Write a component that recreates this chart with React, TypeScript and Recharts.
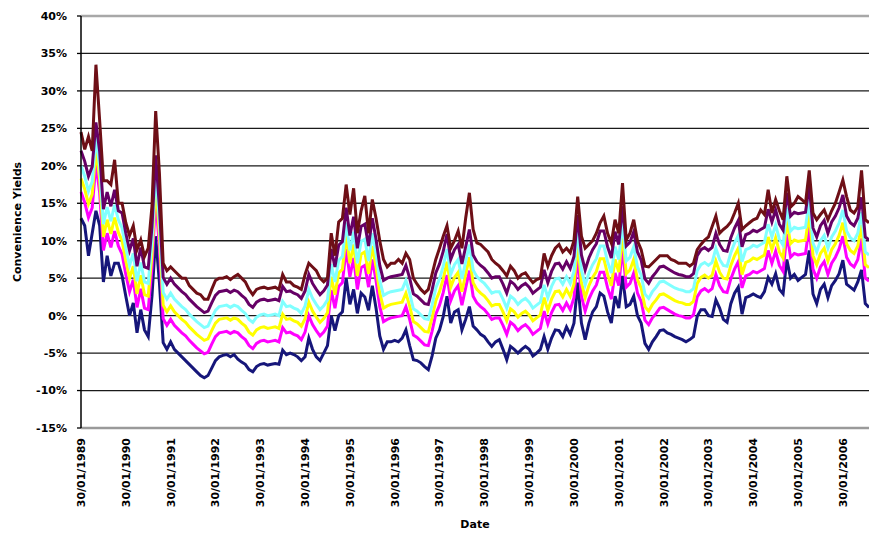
import { LineChart, Line, XAxis, YAxis, CartesianGrid, ReferenceLine, Label } from 'recharts';

// monthly observations, Jan 1989 .. Aug 2006 (values in %)
const maroonYield = [
  24.5, 22.2, 23.9, 22, 33.5, 26, 18, 18, 17.5, 20.8, 15, 15,
  12.4, 10.7, 12, 8.8, 10.1, 7.9, 9, 14.6, 27.3, 19, 7, 6,
  6.5, 6, 5.5, 5, 5, 4, 3.5, 3, 2.8, 2.2, 2.2, 3.5,
  4.7, 5, 5, 5.2, 4.8, 5.2, 5.5, 5, 4.5, 3.5, 2.8, 3.5,
  3.7, 3.8, 3.6, 3.7, 3.8, 3.5, 5.5, 4.5, 4.5, 4, 3.8, 3.5,
  5.5, 7, 6.5, 6, 5, 4.5, 5, 11, 8, 12.5, 13, 17.5,
  13.5, 17, 11, 14, 16, 11, 15.5, 13, 10, 7.5, 6.5, 7,
  7, 7.5, 7, 8.3, 7.5, 5, 4.2, 3.5, 3, 3.5, 5.5, 7.5,
  9, 10.6, 12, 9, 10, 11.3, 9, 13, 16.4, 11.5, 9.7, 9.5,
  9, 8.5, 7.5, 7, 6.6, 6, 5.3, 6.6, 6, 5, 5.5, 5.7,
  5, 4.4, 4.8, 5, 8.3, 6.6, 8, 9, 9.5, 8.5, 9, 8.4,
  10, 15.9, 10.6, 9, 9.5, 10, 11, 12.4, 13.3, 11, 9.7, 12.8,
  11, 17.7, 10.1, 11, 12.8, 10, 8.8, 6.6, 6.5, 7, 7.5, 8,
  8, 8, 7.5, 7.3, 7, 7, 7, 6.6, 7, 8.8, 9.5, 10.1,
  10.5, 11.9, 13.3, 11, 11.5, 11.9, 12.5, 13.7, 15, 11.5, 12, 12.4,
  12.8, 13, 14.1, 13.5, 16.8, 13.7, 15.5, 14, 12.8, 18.6, 14.5, 15,
  15.9, 15.5, 15, 19.4, 13.7, 12.8, 13.5, 14.1, 12.8, 14, 15, 16.5,
  18.1, 15.9, 14.1, 13.7, 14.5, 19.4, 12.8, 12.4,
];

const purpleYield = [
  22.0, 20.6, 18.6, 19.9, 25.8, 21.9, 14.2, 16.5, 14.6, 16.8, 14.0, 13.7,
  11.0, 8.7, 10.3, 6.6, 9.1, 6.5, 6.3, 11.8, 21.4, 14.5, 5.1, 4.2,
  5.0, 4.2, 3.7, 3.2, 2.8, 2.2, 1.7, 1.2, 0.8, 0.4, 0.6, 1.7,
  2.7, 3.2, 3.3, 3.4, 3.1, 3.4, 3.2, 2.7, 2.3, 1.5, 1.1, 1.8,
  2.1, 2.2, 2.0, 2.1, 2.2, 2.0, 3.9, 3.2, 3.3, 3.0, 2.8, 2.3,
  3.3, 5.5, 4.3, 3.5, 2.8, 3.3, 4.1, 8.9, 6.5, 9.4, 9.9, 14.4,
  10.7, 13.2, 9.0, 11.9, 12.2, 9.3, 13.0, 10.2, 6.7, 4.7, 5.0, 5.2,
  5.3, 5.4, 5.5, 6.7, 5.0, 2.9, 2.6, 2.1, 1.6, 1.5, 3.4, 5.7,
  6.9, 8.6, 10.9, 7.5, 8.8, 9.5, 6.9, 9.2, 11.5, 8.1, 7.2, 6.7,
  6.3, 5.7, 5.0, 5.2, 5.2, 4.2, 3.0, 4.6, 4.2, 3.5, 4.0, 4.3,
  3.8, 3.0, 3.4, 3.8, 6.1, 4.4, 5.9, 6.9, 7.0, 6.2, 7.2, 6.3,
  7.9, 13.4, 8.1, 6.1, 7.7, 8.8, 9.6, 11.3, 11.3, 9.2, 7.7, 11.2,
  9.5, 14.6, 9.3, 9.8, 11.2, 8.5, 7.4, 4.9, 4.3, 5.2, 5.8, 6.5,
  6.6, 6.3, 6.0, 5.7, 5.5, 5.4, 5.2, 5.2, 5.6, 8.0, 8.8, 9.1,
  8.7, 9.1, 11.0, 9.5, 8.7, 8.6, 10.4, 11.7, 12.7, 9.2, 10.8, 11.0,
  11.4, 11.2, 11.5, 11.8, 14.2, 12.5, 14.1, 12.2, 11.4, 16.4, 13.3, 13.8,
  13.6, 13.7, 13.8, 17.4, 11.7, 10.5, 12.0, 12.7, 11.0, 12.5, 13.3, 14.4,
  16.1, 13.3, 12.4, 12.0, 13.0, 15.8, 10.5, 10.1,
];

const cyanYield = [
  20.0, 18.6, 16.6, 17.9, 23.8, 19.9, 12.2, 14.5, 12.6, 14.8, 12.8, 11.7,
  9.0, 6.7, 8.3, 4.6, 7.1, 4.5, 4.3, 9.8, 19.4, 12.5, 3.1, 2.2,
  3.0, 2.2, 1.7, 1.2, 0.8, 0.2, -0.3, -0.8, -1.2, -1.6, -1.4, -0.3,
  0.7, 1.2, 1.3, 1.4, 1.1, 1.4, 1.2, 0.7, 0.3, -0.5, -0.9, -0.2,
  0.1, 0.2, 0.0, 0.1, 0.2, 0.0, 1.9, 1.2, 1.3, 1.0, 0.8, 0.3,
  1.3, 3.5, 2.3, 1.5, 0.8, 1.3, 2.1, 6.9, 4.5, 7.4, 7.9, 12.4,
  8.7, 11.2, 7.0, 9.9, 10.2, 7.3, 11.0, 8.2, 4.7, 2.7, 3.0, 3.2,
  3.3, 3.4, 3.5, 4.7, 3.0, 0.9, 0.6, 0.1, -0.4, -0.5, 1.4, 3.7,
  4.9, 6.6, 8.9, 5.5, 6.8, 7.5, 4.9, 7.2, 9.5, 6.1, 5.2, 4.7,
  4.3, 3.7, 3.0, 3.2, 3.2, 2.2, 1.0, 2.6, 2.2, 1.5, 2.0, 2.3,
  1.8, 1.0, 1.4, 1.8, 4.1, 2.4, 3.9, 4.9, 5.0, 4.2, 5.2, 4.3,
  5.9, 11.4, 6.1, 4.1, 5.7, 6.8, 7.6, 9.3, 9.3, 7.2, 5.7, 9.2,
  7.5, 12.6, 7.3, 7.8, 9.2, 6.5, 5.4, 2.9, 2.3, 3.2, 3.8, 4.5,
  4.6, 4.3, 4.0, 3.7, 3.5, 3.4, 3.2, 3.2, 3.6, 6.0, 6.8, 7.1,
  6.7, 7.1, 9.0, 7.5, 6.7, 6.6, 8.4, 9.7, 10.7, 7.2, 8.8, 9.0,
  9.4, 9.2, 9.5, 9.8, 12.2, 10.5, 12.1, 10.2, 9.4, 14.4, 11.3, 11.8,
  11.6, 11.7, 11.8, 15.4, 9.7, 8.5, 10.0, 10.7, 9.0, 10.5, 11.3, 12.4,
  14.1, 11.3, 10.4, 10.0, 11.0, 13.8, 8.5, 8.1,
];

const yellowYield = [
  18.3, 16.9, 14.9, 16.2, 22.1, 18.2, 10.5, 12.8, 10.9, 13.1, 11.1, 10.0,
  7.3, 5.0, 6.6, 2.9, 5.4, 2.8, 2.6, 8.1, 17.7, 10.8, 1.4, 0.5,
  1.3, 0.5, 0.0, -0.5, -0.9, -1.5, -2.0, -2.5, -2.9, -3.3, -3.1, -2.0,
  -1.0, -0.5, -0.4, -0.3, -0.6, -0.3, -0.5, -1.0, -1.4, -2.2, -2.6, -1.9,
  -1.6, -1.5, -1.7, -1.6, -1.5, -1.7, 0.2, -0.5, -0.4, -0.7, -0.9, -1.4,
  -0.4, 1.8, 0.6, -0.2, -0.9, -0.4, 0.4, 5.2, 2.8, 5.7, 6.2, 10.7,
  7.0, 9.5, 5.3, 8.2, 8.5, 5.6, 9.3, 6.5, 3.0, 1.0, 1.3, 1.5,
  1.6, 1.7, 1.8, 3.0, 1.3, -0.8, -1.1, -1.6, -2.1, -2.2, -0.3, 2.0,
  3.2, 4.9, 7.2, 3.8, 5.1, 5.8, 3.2, 5.5, 7.8, 4.4, 3.5, 3.0,
  2.6, 2.0, 1.3, 1.5, 1.5, 0.5, -0.7, 0.9, 0.5, -0.2, 0.3, 0.6,
  0.1, -0.7, -0.3, 0.1, 2.4, 0.7, 2.2, 3.2, 3.3, 2.5, 3.5, 2.6,
  4.2, 9.7, 4.4, 2.4, 4.0, 5.1, 5.9, 7.6, 7.6, 5.5, 4.0, 7.5,
  5.8, 10.9, 5.6, 6.1, 7.5, 4.8, 3.7, 1.2, 0.6, 1.5, 2.1, 2.8,
  2.9, 2.6, 2.3, 2.0, 1.8, 1.7, 1.5, 1.5, 1.9, 4.3, 5.1, 5.4,
  5.0, 5.4, 7.3, 5.8, 5.0, 4.9, 6.7, 8.0, 9.0, 5.5, 7.1, 7.3,
  7.7, 7.5, 7.8, 8.1, 10.5, 8.8, 10.4, 8.5, 7.7, 12.7, 9.6, 10.1,
  9.9, 10.0, 10.1, 13.7, 8.0, 6.8, 8.3, 9.0, 7.3, 8.8, 9.6, 10.7,
  12.4, 9.6, 8.7, 8.3, 9.3, 12.1, 6.8, 6.4,
];

const magentaYield = [
  16.5, 15.1, 13.1, 14.4, 20.3, 16.4, 8.7, 11.0, 9.1, 11.3, 9.3, 8.2,
  5.5, 3.2, 4.8, 1.1, 3.6, 1.0, 0.8, 6.3, 15.9, 9.0, -0.4, -1.3,
  -0.5, -1.3, -1.8, -2.3, -2.7, -3.3, -3.8, -4.3, -4.7, -5.1, -4.9, -3.8,
  -2.8, -2.3, -2.2, -2.1, -2.4, -2.1, -2.3, -2.8, -3.2, -4.0, -4.4, -3.7,
  -3.4, -3.3, -3.5, -3.4, -3.3, -3.5, -1.6, -2.3, -2.2, -2.5, -2.7, -3.2,
  -2.2, 0.0, -1.2, -2.0, -2.7, -2.2, -1.4, 3.4, 1.0, 3.9, 4.4, 8.9,
  5.2, 7.7, 3.5, 6.4, 6.7, 3.8, 7.5, 4.7, 1.2, -0.8, -0.5, -0.3,
  -0.2, -0.1, 0.0, 1.2, -0.5, -2.6, -2.9, -3.4, -3.9, -4.0, -2.1, 0.2,
  1.4, 3.1, 5.4, 2.0, 3.3, 4.0, 1.4, 3.7, 6.0, 2.6, 1.7, 1.2,
  0.8, 0.2, -0.5, -0.3, -0.3, -1.3, -2.5, -0.9, -1.3, -2.0, -1.5, -1.2,
  -1.7, -2.5, -2.1, -1.7, 0.6, -1.1, 0.4, 1.4, 1.5, 0.7, 1.7, 0.8,
  2.4, 7.9, 2.6, 0.6, 2.2, 3.3, 4.1, 5.8, 5.8, 3.7, 2.2, 5.7,
  4.0, 9.1, 3.8, 4.3, 5.7, 3.0, 1.9, -0.6, -1.2, -0.3, 0.3, 1.0,
  1.1, 0.8, 0.5, 0.2, 0.0, -0.1, -0.3, -0.3, 0.1, 2.5, 3.3, 3.6,
  3.2, 3.6, 5.5, 4.0, 3.2, 3.1, 4.9, 6.2, 7.2, 3.7, 5.3, 5.5,
  5.9, 5.7, 6.0, 6.3, 8.7, 7.0, 8.6, 6.7, 5.9, 10.9, 7.8, 8.3,
  8.1, 8.2, 8.3, 11.9, 6.2, 5.0, 6.5, 7.2, 5.5, 7.0, 7.8, 8.9,
  10.6, 7.8, 6.9, 6.5, 7.5, 10.3, 5.0, 4.6,
];

const navyYield = [
  13, 12, 8, 11, 14, 12, 4.5, 8, 5.3, 7, 7, 5.3,
  2.6, 0, 1.7, -2.3, 0.8, -1.9, -2.8, 2.6, 10.6, 4.4, -3.6, -4.5,
  -3.5, -4.5, -5, -5.5, -6, -6.5, -7, -7.5, -8, -8.3, -8, -7,
  -6, -5.5, -5.3, -5.2, -5.5, -5.2, -5.8, -6.2, -6.5, -7.2, -7.5, -6.8,
  -6.5, -6.4, -6.6, -6.5, -6.4, -6.5, -4.6, -5.2, -5, -5.2, -5.5, -6,
  -5.5, -3, -4.5, -5.5, -6, -5, -4, 0, -2, 0, 0.5, 5,
  1.5, 3.5, 0.3, 3, 2.5, 0.7, 4, 1, -2.7, -4.5, -3.5, -3.5,
  -3.3, -3.5, -3, -1.9, -4, -5.9, -6, -6.3, -6.8, -7.2, -5.4, -3,
  -1.9, -0.1, 2.6, -1, 0.5, 0.8, -1.9, -0.5, 1.2, -1.4, -1.9, -2.5,
  -2.8, -3.5, -4.1, -3.5, -3.2, -4.5, -5.9, -4.1, -4.5, -5, -4.5, -4.1,
  -4.5, -5.4, -5, -4.5, -2.8, -4.5, -3, -1.9, -2, -2.8, -1.5, -2.5,
  -1, 4.4, -1, -3.2, -1, 0.5, 1.2, 3, 2.6, 0.5, -1, 2.6,
  1, 5.3, 1.2, 1.5, 2.6, 0, -1, -3.7, -4.5, -3.5, -2.8, -2,
  -1.9, -2.3, -2.5, -2.8, -3, -3.2, -3.5, -3.2, -2.8, -0.1, 0.8, 0.8,
  0, -0.1, 2.1, 1, -0.5, -0.9, 1.6, 3, 3.8, 0.2, 2.4, 2.6,
  2.9, 2.6, 2.4, 3.2, 5.1, 4.2, 5.6, 3.5, 2.9, 7.5, 5, 5.5,
  4.7, 5.1, 5.5, 8.7, 2.9, 1.6, 3.5, 4.2, 2.4, 4, 4.7, 5.6,
  7.4, 4.2, 3.8, 3.4, 4.5, 6.1, 1.6, 1.1,
];

const tickMonths = [0, 12, 24, 36, 48, 60, 72, 84, 96, 108, 120, 132, 144, 156, 168, 180, 192, 204];
const tickLabels = [
  '30/01/1989', '30/01/1990', '30/01/1991', '30/01/1992', '30/01/1993', '30/01/1994',
  '30/01/1995', '30/01/1996', '30/01/1997', '30/01/1998', '30/01/1999', '30/01/2000',
  '30/01/2001', '30/01/2002', '30/01/2003', '30/01/2004', '30/01/2005', '30/01/2006',
];
const yTicks = [-15, -10, -5, 0, 5, 10, 15, 20, 25, 30, 35, 40];

const FONT = '"DejaVu Sans", Arial, sans-serif';

const data = maroonYield.map((v, i) => ({
  m: i,
  maroon: v,
  purple: purpleYield[i],
  cyan: cyanYield[i],
  yellow: yellowYield[i],
  magenta: magentaYield[i],
  navy: navyYield[i],
}));

function DateTick({ x, y, payload }: any) {
  const idx = tickMonths.indexOf(payload.value);
  const ty = y + 2;
  return (
    <text
      x={x}
      y={ty}
      transform={`rotate(-90 ${x} ${ty})`}
      textAnchor="end"
      dy="0.36em"
      fontFamily={FONT}
      fontWeight="bold"
      fontSize={11}
      fill="#000"
    >
      {tickLabels[idx]}
    </text>
  );
}

export default function App() {
  return (
    <div style={{ position: 'absolute', left: 0, top: 0, width: 869, height: 533, background: '#fff' }}>
      <LineChart width={869} height={533} data={data} margin={{ top: 16, right: 0, bottom: 0, left: 0 }}>
        <CartesianGrid vertical={false} stroke="#1a1a1a" strokeWidth={1.3} />
        <ReferenceLine y={40} stroke="#a8a8a8" strokeWidth={2.5} />
        <XAxis
          type="number"
          dataKey="m"
          domain={[0, 211]}
          ticks={tickMonths}
          interval={0}
          tick={<DateTick />}
          tickLine={false}
          axisLine={{ stroke: '#9a9a9a', strokeWidth: 2.5 }}
          height={105}
        >
          <Label
            value="Date"
            position="insideBottom"
            offset={5}
            style={{ fontFamily: FONT, fontWeight: 'bold', fontSize: 11, fill: '#000' }}
          />
        </XAxis>
        <YAxis
          domain={[-15, 40]}
          ticks={yTicks}
          interval={0}
          tickFormatter={(v: number) => `${v}%`}
          width={81}
          tickSize={4}
          tickMargin={10}
          axisLine={{ stroke: '#000', strokeWidth: 1.5 }}
          tickLine={{ stroke: '#000', strokeWidth: 1.3 }}
          tick={{ fontFamily: FONT, fontWeight: 'bold', fontSize: 11, fill: '#000' }}
        >
          <Label
            content={() => (
              <text
                x={21}
                y={222}
                transform="rotate(-90 21 222)"
                textAnchor="middle"
                fontFamily={FONT}
                fontWeight="bold"
                fontSize={11}
                fill="#000"
              >
                Convenience Yields
              </text>
            )}
          />
        </YAxis>
        <Line type="linear" dataKey="navy" stroke="#16167a" strokeWidth={3} dot={false} isAnimationActive={false} />
        <Line type="linear" dataKey="magenta" stroke="#ff00ff" strokeWidth={3} dot={false} isAnimationActive={false} />
        <Line type="linear" dataKey="yellow" stroke="#ffff00" strokeWidth={3} dot={false} isAnimationActive={false} />
        <Line type="linear" dataKey="cyan" stroke="#80ffff" strokeWidth={3} dot={false} isAnimationActive={false} />
        <Line type="linear" dataKey="purple" stroke="#660066" strokeWidth={3} dot={false} isAnimationActive={false} />
        <Line type="linear" dataKey="maroon" stroke="#6e0f16" strokeWidth={3} dot={false} isAnimationActive={false} />
      </LineChart>
    </div>
  );
}
